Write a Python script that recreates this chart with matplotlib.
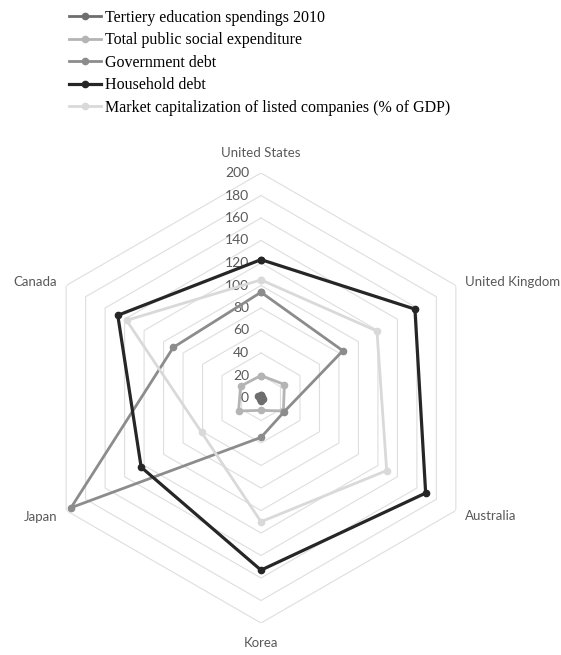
import matplotlib.pyplot as plt
import numpy as np

countries = ["United States", "United Kingdom", "Australia", "Korea", "Japan", "Canada"]
tertiary = [2.8, 1.4, 1.6, 2.6, 1.5, 2.7]
social = [20, 24, 23, 11, 23, 21]
gov_debt = [94, 84, 24, 35, 195, 90]
household = [123, 158, 169, 153, 123, 147]
market_cap = [105, 119, 129, 110, 61, 138]
r_ticks = [0, 20, 40, 60, 80, 100, 120, 140, 160, 180, 200]

series = [
    ("Tertiery education spendings 2010", tertiary, "#6e6e6e", 2.0),
    ("Total public social expenditure", social, "#b4b4b4", 2.0),
    ("Government debt", gov_debt, "#8c8c8c", 2.0),
    ("Household debt", household, "#262626", 2.3),
    ("Market capitalization of listed companies (% of GDP)", market_cap, "#d9d9d9", 2.0),
]

LABEL_FONT = "Lato"
LABEL_COLOR = "#595959"

fig = plt.figure(figsize=(5.61, 6.55), dpi=100)
ax = fig.add_axes([36 / 561, 32 / 655, 450 / 561, 450 / 655], projection="polar")
ax.set_theta_offset(np.pi / 2)
ax.set_theta_direction(-1)
ax.set_ylim(0, 200)
ax.grid(False)
ax.set_xticks([])
ax.set_yticks([])
ax.spines["polar"].set_visible(False)

angles = np.linspace(0, 2 * np.pi, len(countries), endpoint=False)
closed = np.append(angles, angles[0])

# hexagon grid
for r in r_ticks[1:]:
    ax.plot(closed, [r] * len(closed), color="#dedede", lw=0.8, zorder=1)

for name, vals, col, lw in series:
    v = vals + vals[:1]
    ax.plot(closed, v, color=col, lw=lw, marker="o", ms=4.5, label=name, zorder=3)

# radial tick labels along the top axis
for r in r_ticks:
    ax.annotate(str(r), xy=(0, r), xytext=(-12, 0), textcoords="offset pixels",
                ha="right", va="center", fontsize=10, color=LABEL_COLOR,
                family=LABEL_FONT, zorder=2)

# category labels
offsets = [(0, 20, "center"), (9, 4, "left"), (9, -6, "left"),
           (0, -20, "center"), (-9, -6, "right"), (-9, 4, "right")]
for a, c, (dx, dy, ha) in zip(angles, countries, offsets):
    ax.annotate(c, xy=(a, 200), xytext=(dx, dy), textcoords="offset pixels",
                ha=ha, va="center", fontsize=9.5, color=LABEL_COLOR,
                family=LABEL_FONT, annotation_clip=False)

fig.legend(loc="upper left", bbox_to_anchor=(69 / 561, 1 - 10 / 655), frameon=False,
           borderaxespad=0, borderpad=0, handlelength=2.0, handletextpad=0.25,
           labelspacing=0.4, prop={"family": "Liberation Serif", "size": 11.5})

fig.savefig("out.png", dpi=100)
